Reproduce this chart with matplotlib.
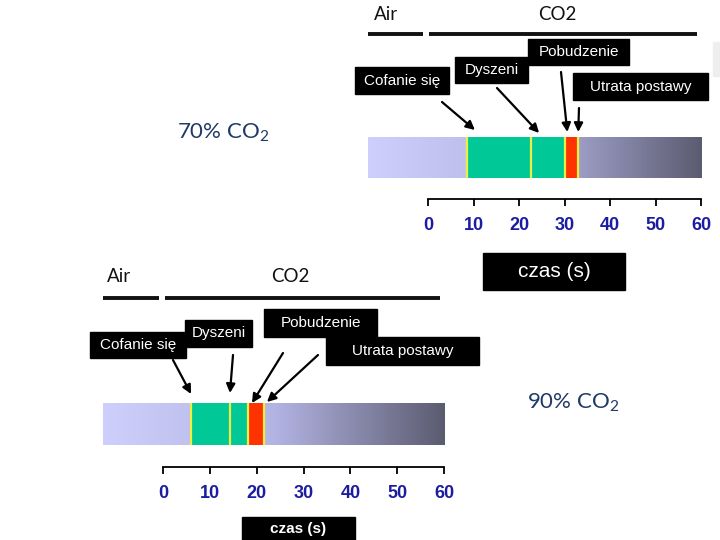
import numpy as np
import matplotlib.pyplot as plt
from matplotlib.colors import LinearSegmentedColormap
from matplotlib.patches import Rectangle

plt.rcParams['mathtext.fontset'] = 'custom'
plt.rcParams['mathtext.rm'] = 'Lato'

# event times (s)
ticks = [0, 10, 20, 30, 40, 50, 60]
events = ["Cofanie się", "Dyszeni", "Pobudzenie", "Utrata postawy"]

# 70% CO2: green start, divider, red start, red end
times_70 = [8.6, 22.6, 30.1, 33.0]
bar_70 = (-13.2, 60.2)
# 90% CO2
times_90 = [6.0, 14.3, 18.2, 21.6]
bar_90 = (-12.8, 60.2)

W, H = 720, 540
fig = plt.figure(figsize=(7.2, 5.4), dpi=100)

cmap = LinearSegmentedColormap.from_list("co2", ["#cfcffd", "#b4b4e4", "#5b5b70"])
GREEN = "#00c896"
RED = "#ff3300"
YEL = "#eef040"
TICKCOL = "#1c1ca0"


def bar_axes(px0, px1, ptop, paxis, span):
    ax = fig.add_axes([px0 / W, 1 - paxis / H, (px1 - px0) / W, (paxis - ptop) / H])
    ax.set_xlim(*span)
    ax.set_ylim(0, paxis - ptop)
    ax.patch.set_alpha(0)
    for s in ['top', 'left', 'right']:
        ax.spines[s].set_visible(False)
    ax.spines['bottom'].set_bounds(0, 60)
    ax.spines['bottom'].set_linewidth(1.3)
    ax.set_yticks([])
    ax.set_xticks(ticks)
    ax.tick_params(axis='x', direction='out', length=5, width=1.3, pad=8,
                   labelsize=13, labelcolor=TICKCOL)
    for lab in ax.get_xticklabels():
        lab.set_fontweight('bold')
        lab.set_family('Liberation Sans')
    return ax


def draw_bar(ax, times, span, y0, y1):
    ax.imshow(np.linspace(0, 1, 256)[None, :], extent=(span[0], span[1], y0, y1),
              aspect='auto', cmap=cmap, zorder=1)
    g0, gd, r0, r1 = times
    ax.barh((y0 + y1) / 2, r0 - g0, left=g0, height=y1 - y0, color=GREEN, zorder=2)
    ax.barh((y0 + y1) / 2, r1 - r0, left=r0, height=y1 - y0, color=RED, zorder=2)
    ax.vlines([g0, gd, r0, r1], y0, y1, color=YEL, lw=1.6, zorder=3)
    ax.set_ylim(0, max(ax.get_ylim()[1], y1))


ax1 = bar_axes(368, 702, 137, 199, bar_70)
draw_bar(ax1, times_70, bar_70, 21, 62)
ax2 = bar_axes(103, 445, 403, 467, bar_90)
draw_bar(ax2, times_90, bar_90, 22, 64)

# overlay in pixel coordinates for labels, boxes and arrows
ov = fig.add_axes([0, 0, 1, 1], zorder=5)
ov.set_xlim(0, W)
ov.set_ylim(H, 0)
ov.axis('off')
ov.patch.set_alpha(0)


def box(x0, y0, x1, y1, txt, size=11, weight='normal', ty=None):
    ov.add_patch(Rectangle((x0, y0), x1 - x0, y1 - y0, color='black', zorder=2))
    if ty is None:
        ty = (y0 + y1) / 2
    ov.text((x0 + x1) / 2, ty, txt, color='white', fontsize=size,
            family='Liberation Sans', weight=weight, ha='center', va='center', zorder=3)


def air_co2(ax_x0, air_end, co2_start, co2_end, y_line, y_txt, air_x, co2_x):
    ov.plot([ax_x0, air_end], [y_line, y_line], color='#111111', lw=2.8, solid_capstyle='butt')
    ov.plot([co2_start, co2_end], [y_line, y_line], color='#111111', lw=2.8, solid_capstyle='butt')
    ov.text(air_x, y_txt, "Air", fontsize=13.5, family='Lato', ha='center', va='center', color='#111111')
    ov.text(co2_x, y_txt, "CO2", fontsize=13.5, family='Lato', ha='center', va='center', color='#111111')


air_co2(368, 423, 429, 697, 34, 15, 386, 557)
air_co2(103, 159, 165, 440, 298, 277, 119, 290)

ov.text(177, 133, r"70% CO$_\mathregular{2}$", fontsize=16, family='Lato', color='#1f3a66',
        ha='left', va='center')
ov.text(527, 403, r"90% CO$_\mathregular{2}$", fontsize=16, family='Lato', color='#1f3a66',
        ha='left', va='center')

# top panel boxes
box(355, 67, 449, 94, events[0])
box(455, 57, 528, 83, events[1])
box(528, 39, 629, 65, events[2])
box(573, 73, 708, 100, events[3])
box(483, 253, 625, 290, "czas (s)", size=15)
ov.add_patch(Rectangle((713, 42), 10, 34, color='#eeeeee', zorder=1))

# bottom panel boxes
box(90, 332, 186, 358, events[0])
box(185, 320, 252, 347, events[1])
box(264, 309, 377, 337, events[2])
box(326, 337, 479, 365, events[3])
box(242, 517, 355, 555, "czas (s)", size=11, weight='bold', ty=529)

arrow = dict(arrowstyle='-|>', color='black', lw=1.6, mutation_scale=13, shrinkA=0, shrinkB=0)

tails_70 = [(442, 102), (497, 88), (561, 72), (579, 108)]
offs_70 = [1.7, 1.8, 0.5, 0.0]
heads_y_70 = [69, 66, 67, 67]
for (tx, ty), t, dt, hy in zip(tails_70, times_70, offs_70, heads_y_70):
    ov.annotate('', xy=(t + dt, hy), xycoords=ax1.transData,
                xytext=(tx, ty), textcoords=ov.transData, arrowprops=arrow)

tails_90 = [(173, 360), (233, 355), (283, 353), (318, 355)]
offs_90 = [0.0, 0.0, 0.8, 0.6]
heads_y_90 = [73, 74, 64, 65]
for (tx, ty), t, dt, hy in zip(tails_90, times_90, offs_90, heads_y_90):
    ov.annotate('', xy=(t + dt, hy), xycoords=ax2.transData,
                xytext=(tx, ty), textcoords=ov.transData, arrowprops=arrow)

fig.savefig("out.png", dpi=100)
